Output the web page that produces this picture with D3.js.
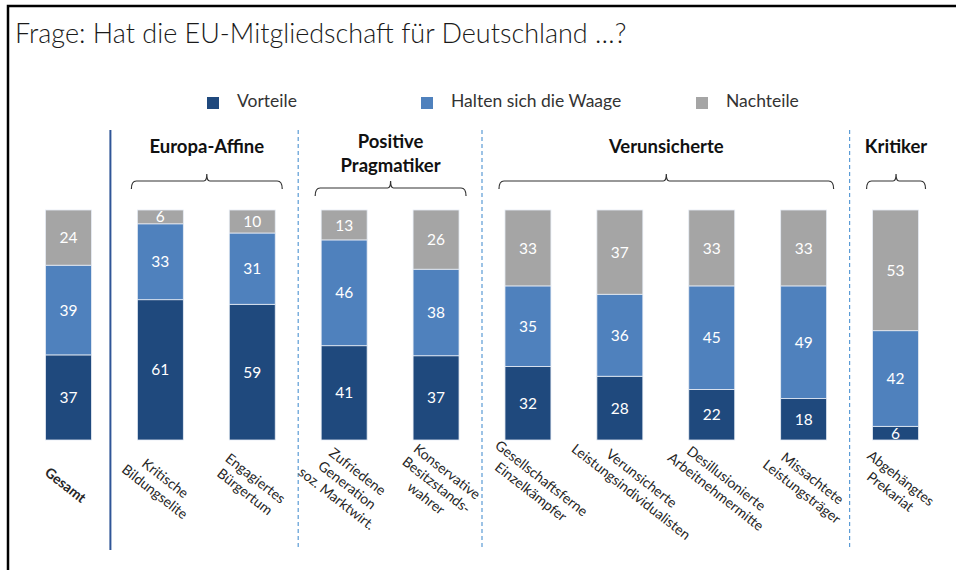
<!DOCTYPE html>
<html>
<head>
<meta charset="utf-8">
<script src="https://cdn.jsdelivr.net/npm/d3@7"></script>
<style>
  body { margin: 0; background: #fff; }
  svg { display: block; font-family: Lato, "Open Sans", sans-serif; }
</style>
</head>
<body>
<div id="chart"></div>
<script>
// data (percent)
const categories = [
  'Gesamt',
  'Kritische\nBildungselite',
  'Engagiertes\nBürgertum',
  'Zufriedene\nGeneration\nsoz. Marktwirt.',
  'Konservative\nBesitzstands-\nwahrer',
  'Gesellschaftsferne\nEinzelkämpfer',
  'Verunsicherte\nLeistungsindividualisten',
  'Desillusionierte\nArbeitnehmermitte',
  'Missachtete\nLeistungsträger',
  'Abgehängtes\nPrekariat'
];
const vorteile  = [37, 61, 59, 41, 37, 32, 28, 22, 18, 6];
const waage     = [39, 33, 31, 46, 38, 35, 36, 45, 49, 42];
const nachteile = [24, 6, 10, 13, 26, 33, 37, 33, 33, 53];
const seriesNames = ['Vorteile', 'Halten sich die Waage', 'Nachteile'];
const groupNames = ['Europa-Affine', 'Positive\nPragmatiker', 'Verunsicherte', 'Kritiker'];
const categoryGroup = [-1, 0, 0, 1, 1, 2, 2, 2, 2, 3];
const title = 'Frage: Hat die EU-Mitgliedschaft für Deutschland …?';

const width = 956, height = 570;
const colors = ['#1f497d', '#4f81bd', '#a5a5a5'];

const rows = categories.map((c, i) => ({
  category: c,
  [seriesNames[0]]: vorteile[i],
  [seriesNames[1]]: waage[i],
  [seriesNames[2]]: nachteile[i]
}));

const stacked = d3.stack()
  .keys(seriesNames)
  .offset(d3.stackOffsetExpand)(rows);

const x = d3.scaleBand()
  .domain(categories)
  .range([22.5, 941.5])
  .paddingInner(0.5)
  .paddingOuter(0.25);

const y = d3.scaleLinear()
  .domain([0, 1])
  .range([440, 210]);

const color = d3.scaleOrdinal().domain(seriesNames).range(colors);

const svg = d3.select('#chart').append('svg')
  .attr('width', width)
  .attr('height', height);

// frame (top + left only)
svg.append('path')
  .attr('d', `M8,${height} V6 H${width}`)
  .attr('fill', 'none')
  .attr('stroke', '#000')
  .attr('stroke-width', 2.5);

svg.append('text')
  .attr('x', 15)
  .attr('y', 43)
  .attr('font-size', 27)
  .attr('font-weight', 300)
  .attr('fill', '#1a1a1a')
  .text(title);

// legend
const legendX = [207, 421, 696];
const legend = svg.append('g').selectAll('g')
  .data(seriesNames)
  .enter().append('g')
  .attr('transform', (d, i) => `translate(${legendX[i]},97)`);
legend.append('rect')
  .attr('width', 12).attr('height', 12)
  .attr('fill', d => color(d));
legend.append('text')
  .attr('x', 30).attr('y', 10)
  .attr('font-size', 17.5)
  .attr('fill', '#333')
  .text(d => d);

// bars
const layer = svg.append('g').selectAll('g')
  .data(stacked)
  .enter().append('g')
  .attr('fill', d => color(d.key));

layer.selectAll('rect')
  .data(d => d)
  .enter().append('rect')
  .attr('x', d => x(d.data.category))
  .attr('y', d => y(d[1]))
  .attr('width', x.bandwidth())
  .attr('height', d => y(d[0]) - y(d[1]))
  .attr('stroke', '#e6ecf4')
  .attr('stroke-width', 0.8);

layer.selectAll('text')
  .data(d => d.map(v => ({ v, key: d.key })))
  .enter().append('text')
  .attr('x', d => x(d.v.data.category) + x.bandwidth() / 2)
  .attr('y', d => (y(d.v[0]) + y(d.v[1])) / 2)
  .attr('dy', '0.36em')
  .attr('text-anchor', 'middle')
  .attr('font-size', 15.5)
  .attr('fill', '#fff')
  .text(d => d.v.data[d.key]);

// separators between groups
categories.forEach((c, i) => {
  if (i === 0 || categoryGroup[i] === categoryGroup[i - 1]) return;
  const prev = categories[i - 1];
  const solid = categoryGroup[i - 1] === -1;
  // the solid line after "Gesamt" sits a bit left of the gap centre
  const sx = (x(prev) + x.bandwidth() + x(c)) / 2 - (solid ? 4 : 0);
  svg.append('line')
    .attr('x1', sx).attr('x2', sx)
    .attr('y1', 130).attr('y2', 550)
    .attr('stroke', solid ? '#2f5597' : '#5b9bd5')
    .attr('stroke-width', solid ? 2 : 1.2)
    .attr('stroke-dasharray', solid ? null : '4,3');
});

// group labels and braces
groupNames.forEach((name, g) => {
  const members = categories.filter((c, i) => categoryGroup[i] === g);
  const x0 = x(members[0]) - 6;
  const x1 = x(members[members.length - 1]) + x.bandwidth() + 7;
  const cx = (x0 + x1) / 2;
  const lines = name.split('\n');
  const by = lines.length > 1 ? 188 : 181;

  const t = svg.append('text')
    .attr('text-anchor', 'middle')
    .attr('font-size', 18.5)
    .attr('font-weight', 700)
    .attr('fill', '#111');
  lines.forEach((l, k) => {
    t.append('tspan').attr('x', cx).attr('y', (lines.length > 1 ? 148 : 153) + k * 24).text(l);
  });

  const r = 5;
  svg.append('path')
    .attr('d', `M${x0},${by + 8} Q${x0},${by} ${x0 + r},${by} H${cx - 3} Q${cx},${by} ${cx},${by - 7} ` +
      `Q${cx},${by} ${cx + 3},${by} H${x1 - r} Q${x1},${by} ${x1},${by + 8}`)
    .attr('fill', 'none')
    .attr('stroke', '#333')
    .attr('stroke-width', 1.2);
});

// rotated category labels
const angle = 38;
const lh = 17;
categories.forEach((c, i) => {
  const lines = c.split('\n');
  const g = svg.append('g');
  const t = g.append('text')
    .attr('text-anchor', 'middle')
    .attr('font-size', 14)
    .attr('font-weight', i === 0 ? 700 : 400)
    .attr('fill', '#262626');
  const spans = lines.map((l, k) => t.append('tspan')
    .attr('x', 0)
    .attr('y', (k - (lines.length - 1) / 2) * lh)
    .attr('dy', '0.35em')
    .text(l));
  const w = d3.max(spans, s => s.node().getComputedTextLength());
  const cx = x(c) + x.bandwidth() / 2 + Math.max(-3, 0.25 * (w - 80));
  g.attr('transform', `translate(${cx},485) rotate(${angle})`);
});
</script>
</body>
</html>
